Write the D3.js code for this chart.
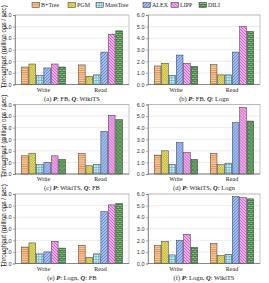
<!DOCTYPE html>
<html>
<head>
<meta charset="utf-8">
<script src="https://cdn.jsdelivr.net/npm/d3@7"></script>
<style>
  body { margin: 0; background: #fff; }
  svg { display: block; }
  .serif { font-family: "Liberation Serif", "Times New Roman", serif; }
  .sans { font-family: "Liberation Sans", Arial, sans-serif; }
</style>
</head>
<body>
<svg width="269" height="283"></svg>
<script>
// indexes and workloads
const indexes = ["B+Tree", "PGM", "MassTree", "ALEX", "LIPP", "DILI"];
const ops = ["Write", "Read"];
const yTicks = [0, 1, 2, 3, 4, 5, 6];

// one entry per sub-figure: letter, P dataset, Q dataset
const panelTags = ["a", "b", "c", "d", "e", "f"];
const panelP = ["FB", "FB", "WikiTS", "WikiTS", "Logn", "Logn"];
const panelQ = ["WikiTS", "Logn", "FB", "Logn", "FB", "WikiTS"];

// throughput values, [write, read] per index
const valsA = [[1.51, 1.69], [1.77, 0.71], [0.80, 0.83], [1.43, 2.80], [1.77, 4.34], [1.51, 4.63]];
const valsB = [[1.60, 1.71], [1.83, 0.83], [0.80, 0.83], [2.54, 2.80], [1.83, 5.00], [1.57, 4.57]];
const valsC = [[1.57, 1.77], [1.80, 0.71], [0.80, 0.83], [1.00, 3.69], [1.57, 5.06], [1.26, 4.69]];
const valsD = [[1.63, 1.77], [2.00, 0.80], [0.83, 0.91], [2.71, 4.43], [1.86, 5.75], [1.26, 4.57]];
const valsE = [[1.42, 1.57], [1.78, 0.53], [0.83, 0.83], [1.00, 4.47], [1.92, 5.06], [1.33, 5.18]];
const valsF = [[1.54, 1.72], [1.90, 0.68], [0.74, 0.80], [1.99, 5.79], [2.52, 5.70], [1.39, 5.58]];
const panelVals = [valsA, valsB, valsC, valsD, valsE, valsF];

const svg = d3.select("svg");
const defs = svg.append("defs");

// hatch patterns, one per index
const pat = (id, size, bg) => {
    const p = defs.append("pattern")
        .attr("id", id)
        .attr("patternUnits", "userSpaceOnUse")
        .attr("width", size).attr("height", size);
    p.append("rect").attr("width", size).attr("height", size).attr("fill", bg);
    return p;
};

let p = pat("p0", 2.2, "#f9c99a");
p.append("line").attr("x1", 0).attr("x2", 2.2).attr("y1", 0.5).attr("y2", 0.5)
    .attr("stroke", "#d2722c").attr("stroke-width", 0.6);

p = pat("p1", 2.4, "#f6f28a");
p.append("rect").attr("width", 1.2).attr("height", 1.2).attr("fill", "#b0a424");
p.append("rect").attr("x", 1.2).attr("y", 1.2).attr("width", 1.2).attr("height", 1.2).attr("fill", "#b0a424");

p = pat("p2", 2.6, "#cdeef6");
p.append("path").attr("d", "M0,0.3H2.6M0.3,0V2.6").attr("stroke", "#3e9bb8").attr("stroke-width", 0.6);

p = pat("p3", 3, "#a3c0f4");
p.append("path").attr("d", "M0,3L3,0M-1,1L1,-1M2,4L4,2").attr("stroke", "#2a55b0").attr("stroke-width", 0.5);

p = pat("p4", 3, "#f6aaf0");
p.append("path").attr("d", "M0,0L3,3M-1,2L1,4M2,-1L4,1").attr("stroke", "#9a2298").attr("stroke-width", 0.5);

p = pat("p5", 4, "#86cc86");
p.append("path").attr("d", "M0,0.3H4M0,2.3H4M1,0.3V2.3M3,2.3V4.3")
    .attr("stroke", "#1a421a").attr("stroke-width", 0.6);

const fills = indexes.map((d, i) => "url(#p" + i + ")");

// legend
const legendX = [32, 68, 96, 143, 171, 199];
const legend = svg.append("g").attr("class", "serif");
indexes.forEach((name, i) => {
    legend.append("rect")
        .attr("x", legendX[i]).attr("y", 2.5)
        .attr("width", 7.5).attr("height", 5)
        .attr("fill", fills[i]).attr("stroke", "#333").attr("stroke-width", 0.5);
    legend.append("text")
        .attr("x", legendX[i] + 9).attr("y", 7.3)
        .attr("font-size", 6).attr("fill", "#222")
        .text(name);
});

// panel layout
const colX = [15, 148];
const colW = [114, 112];
const rowY = [15, 104.5, 194];
const plotH = 69.5;

panelVals.forEach((vals, k) => {
    const col = k % 2, row = Math.floor(k / 2);
    const w = colW[col];
    const g = svg.append("g")
        .attr("transform", "translate(" + colX[col] + "," + rowY[row] + ")");

    const y = d3.scaleLinear().domain([0, 6]).range([plotH, 0]);
    const x0 = d3.scaleBand().domain(ops).range([0, w]).paddingInner(0.2).paddingOuter(0.1);
    const x1 = d3.scaleBand().domain(indexes).range([0, x0.bandwidth()]).padding(0.1);

    // grid
    g.selectAll(".grid").data(yTicks).enter().append("line")
        .attr("x1", 0).attr("x2", w)
        .attr("y1", d => y(d)).attr("y2", d => y(d))
        .attr("stroke", "#d8d8d8").attr("stroke-width", 0.5);

    // frame
    g.append("rect").attr("width", w).attr("height", plotH)
        .attr("fill", "none").attr("stroke", "#999").attr("stroke-width", 0.6);

    // y axis
    const ya = g.append("g").attr("class", "sans")
        .call(d3.axisLeft(y).tickValues(yTicks).tickSize(2).tickPadding(1.5));
    ya.select(".domain").attr("stroke", "#666").attr("stroke-width", 0.6);
    ya.selectAll(".tick line").attr("stroke", "#666").attr("stroke-width", 0.5);
    ya.selectAll("text").attr("font-size", 5.5).attr("fill", "#333");

    // bars
    ops.forEach((op, j) => {
        g.append("g").selectAll("rect").data(indexes).enter().append("rect")
            .attr("x", d => x0(op) + x1(d))
            .attr("y", (d, i) => y(vals[i][j]))
            .attr("width", x1.bandwidth())
            .attr("height", (d, i) => plotH - y(vals[i][j]))
            .attr("fill", (d, i) => fills[i])
            .attr("stroke", "#333").attr("stroke-width", 0.5);
    });

    // bottom axis line
    g.append("line").attr("x1", 0).attr("x2", w).attr("y1", plotH).attr("y2", plotH)
        .attr("stroke", "#666").attr("stroke-width", 0.6);

    // op labels
    g.selectAll(".op").data(ops).enter().append("text")
        .attr("class", "serif")
        .attr("x", d => x0(d) + x0.bandwidth() / 2)
        .attr("y", plotH + 7)
        .attr("text-anchor", "middle")
        .attr("font-size", 6).attr("fill", "#222")
        .text(d => d);

    // caption
    const cap = g.append("text").attr("class", "serif")
        .attr("x", w / 2).attr("y", plotH + 16)
        .attr("text-anchor", "middle")
        .attr("font-size", 6.5).attr("fill", "#222");
    cap.append("tspan").text("(" + panelTags[k] + ") ");
    cap.append("tspan").attr("font-weight", "bold").attr("font-style", "italic").text("P");
    cap.append("tspan").text(": " + panelP[k] + ", ");
    cap.append("tspan").attr("font-weight", "bold").attr("font-style", "italic").text("Q");
    cap.append("tspan").text(": " + panelQ[k]);

    // y label on left column
    if (col === 0) {
        g.append("text").attr("class", "sans")
            .attr("transform", "translate(-9.5," + (plotH / 2 - 3) + ") rotate(-90)")
            .attr("text-anchor", "middle")
            .attr("font-size", 6.3).attr("fill", "#222")
            .text("Throughput (million ops / sec)");
    }
});
</script>
</body>
</html>
